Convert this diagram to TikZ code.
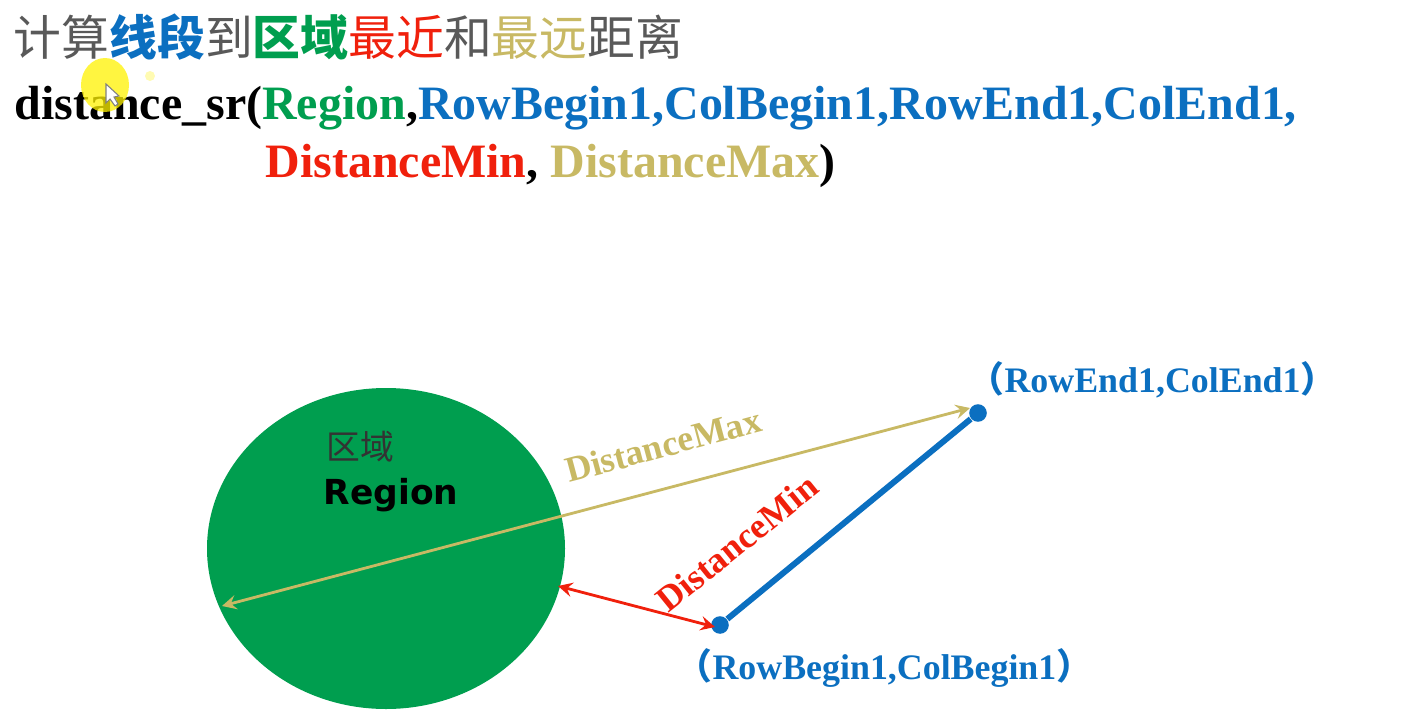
\documentclass[tikz,border=0pt]{standalone}
\usepackage{fontspec}
\setmainfont{Liberation Serif}
\newfontfamily\cjk{Noto Sans CJK SC}
\newfontfamily\regionfont{DejaVu Sans}
\usetikzlibrary{shapes.geometric}
\definecolor{titlegray}{HTML}{595959}
\definecolor{segblue}{HTML}{0B6FC0}
\definecolor{regiongreen}{HTML}{009E4F}
\definecolor{minred}{HTML}{F0200C}
\definecolor{maxkhaki}{HTML}{C8B964}
\tikzset{
	titletext/.style={anchor=base west, inner sep=0pt, font=\fontsize{13.6}{16}\selectfont\cjk, text=titlegray},
	codetext/.style={anchor=base west, inner sep=0pt, font=\fontsize{13.63}{16}\selectfont\bfseries},
	pointtext/.style={anchor=base west, inner sep=0pt, text=segblue, font=\fontsize{10.2}{12}\selectfont\bfseries},
	endpoint/.style={circle, fill=segblue, inner sep=0pt, minimum size=5pt},
	distlabel/.style={inner sep=0pt, font=\fontsize{10.2}{12}\selectfont\bfseries},
}
\begin{document}
\begin{tikzpicture}[x=0.01cm, y=-0.01cm]
		\useasboundingbox (0,0) rectangle (1403,709);

		\node[titletext] (title) at (13,55) {计算\textcolor{segblue}{\bfseries 线段}到\textcolor{regiongreen}{\bfseries 区域}\textcolor{minred}{最近}和\textcolor{maxkhaki}{最远}距离};
		\node[codetext] (codeone) at (14,119) {distance\_sr(\textcolor{regiongreen}{Region},\textcolor{segblue}{RowBegin1,ColBegin1,RowEnd1,ColEnd1,}};
		\node[codetext] (codetwo) at (265,177) {\textcolor{minred}{DistanceMin}, \textcolor{maxkhaki}{DistanceMax})};

		\fill[yellow, opacity=0.75] (105,85) ellipse (24 and 27);
		\fill[yellow, opacity=0.3] (150,76) circle (5);
		\draw[gray, fill=white, line width=0.3pt] (106,84) -- (106,103) -- (110,99) -- (115,106) -- (118,104) -- (114,97) -- (119,96) -- cycle;

		\node[ellipse, fill=regiongreen, minimum width=358*0.01cm, minimum height=321*0.01cm, inner sep=0pt] (region) at (386,548.5) {};
		\node[font=\fontsize{9.6}{12}\selectfont\cjk, text=black!80, inner sep=0pt] (regioncn) at (360,447) {区域};
		\node[font=\fontsize{9.8}{12}\selectfont\regionfont\bfseries, inner sep=0pt] (regionen) at (391,495) {Region};

		\coordinate (maxfar) at (222,606);
		\coordinate (maxnear) at (970,408);
		\coordinate (minfar) at (558,586);
		\coordinate (minnear) at (715,627);

		\node[endpoint] (segbegin) at (720,625) {};
		\node[endpoint] (segend) at (978,413) {};
		\draw[segblue, line width=1.7pt] (segbegin) -- (segend);

		\draw[maxkhaki, line width=0.8pt, <->, >=stealth] (maxfar) -- (maxnear);
		\draw[minred, line width=0.8pt, <->, >=stealth] (minfar) -- (minnear);

		\node[distlabel, text=maxkhaki, rotate=15] (maxlabel) at (663,445) {DistanceMax};
		\node[distlabel, text=minred, rotate=39] (minlabel) at (737,543) {DistanceMin};

		\node[pointtext] (endlabel) at (968,392) {{\cjk\symbol{"FF08}}RowEnd1,ColEnd1{\cjk\symbol{"FF09}}};
		\node[pointtext] (beginlabel) at (676,679) {{\cjk\symbol{"FF08}}RowBegin1,ColBegin1{\cjk\symbol{"FF09}}};
	\end{tikzpicture}
\end{document}
